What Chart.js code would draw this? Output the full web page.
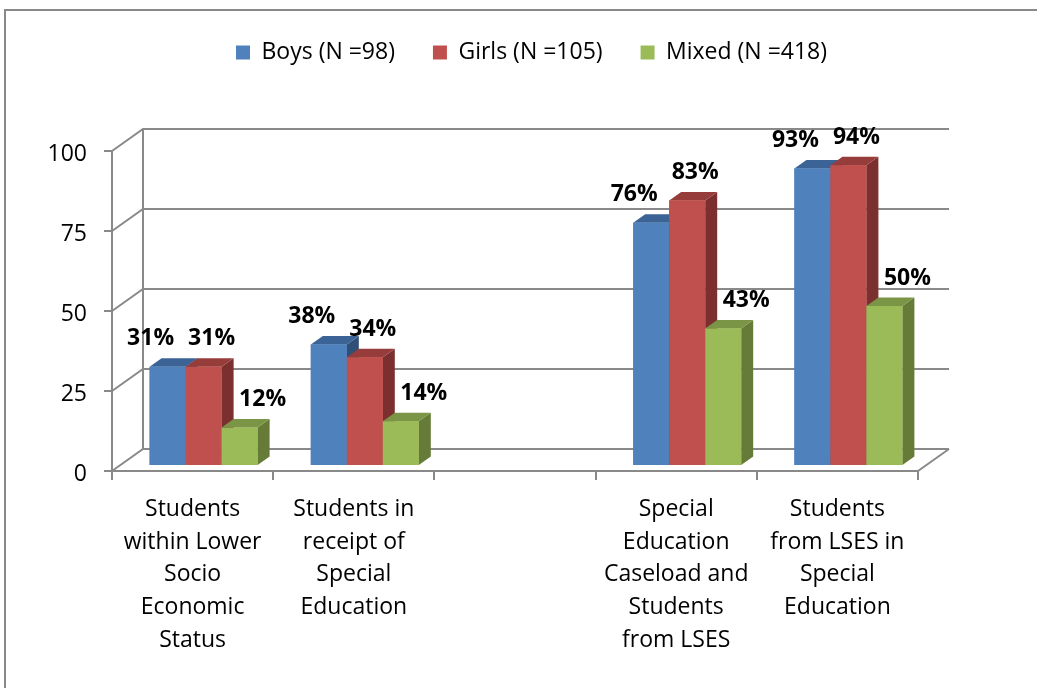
<!DOCTYPE html>
<html>
<head>
<meta charset="utf-8">
<script src="https://cdn.jsdelivr.net/npm/chart.js@4.4.1/dist/chart.umd.min.js"></script>
<style>
  html, body { margin: 0; padding: 0; background: #fff; }
  canvas { display: block; }
</style>
</head>
<body>
<canvas id="myChart" width="1037" height="688"></canvas>
<script>
// categories (third slot is an empty gap in the original)
const categories = [
  ['Students', 'within Lower', 'Socio', 'Economic', 'Status'],
  ['Students in', 'receipt of', 'Special', 'Education'],
  '',
  ['Special', 'Education', 'Caseload and', 'Students', 'from LSES'],
  ['Students', 'from LSES in', 'Special', 'Education']
];
const seriesNames = ['Boys (N =98)', 'Girls (N =105)', 'Mixed (N =418)'];
const boys  = [31, 38, null, 76, 93];
const girls = [31, 34, null, 83, 94];
const mixed = [12, 14, null, 43, 50];
const yMin = 0;
const yMax = 100;
const yStep = 25;

const gridGray = '#898989';
const fontFamily = "'Open Sans', sans-serif";
const depth = { x: 31, y: -22 };     // floor / back wall depth
const barShift = { x: 11, y: -5 };   // bars stand inside the floor
const barDepth = { x: 12, y: -8.5 }; // thickness of each bar

const threeD = {
  id: 'threeD',
  beforeDraw(chart) {
    const c = chart.ctx;
    c.save();
    c.strokeStyle = gridGray;
    c.lineWidth = 2;
    c.beginPath();
    c.moveTo(5, chart.height);
    c.lineTo(5, 10);
    c.lineTo(chart.width, 10);
    c.stroke();
    c.restore();
  },
  beforeDatasetsDraw(chart) {
    const c = chart.ctx, a = chart.chartArea, ys = chart.scales.y;
    c.save();
    c.strokeStyle = gridGray;
    c.lineWidth = 2;
    c.beginPath();
    ys.ticks.forEach(t => {
      const py = ys.getPixelForValue(t.value);
      c.moveTo(a.left, py);
      c.lineTo(a.left + depth.x, py + depth.y);
      c.lineTo(a.right + depth.x, py + depth.y);
    });
    c.moveTo(a.left + depth.x, ys.getPixelForValue(yMax) + depth.y);
    c.lineTo(a.left + depth.x, ys.getPixelForValue(yMin) + depth.y);
    c.moveTo(a.right, a.bottom);
    c.lineTo(a.right + depth.x, a.bottom + depth.y);
    c.stroke();
    c.restore();
    // bars are drawn a bit behind the front plane
    c.save();
    c.translate(barShift.x, barShift.y);
  },
  afterDatasetsDraw(chart) {
    const c = chart.ctx;
    for (let i = 0; i < chart.data.labels.length; i++) {
      chart.data.datasets.forEach((ds, d) => {
        if (ds.data[i] == null) return;
        const el = chart.getDatasetMeta(d).data[i];
        const {x, y, base, width} = el.getProps(['x', 'y', 'base', 'width'], true);
        const x0 = x - width / 2, x1 = x + width / 2;
        const dx = barDepth.x, dy = barDepth.y;
        // side
        c.fillStyle = ds.sideColor;
        c.beginPath();
        c.moveTo(x1, y); c.lineTo(x1 + dx, y + dy);
        c.lineTo(x1 + dx, base + dy); c.lineTo(x1, base);
        c.closePath(); c.fill();
        // top
        c.fillStyle = ds.topColor;
        c.beginPath();
        c.moveTo(x0, y); c.lineTo(x1, y);
        c.lineTo(x1 + dx, y + dy); c.lineTo(x0 + dx, y + dy);
        c.closePath(); c.fill();
        // front again so that the order inside a group is right
        c.fillStyle = ds.backgroundColor;
        c.fillRect(x0, y, width, base - y);
      });
    }
    c.restore();
  },
  afterDraw(chart) {
    const c = chart.ctx;
    c.save();
    c.font = 'bold 23px ' + fontFamily;
    c.fillStyle = '#000';
    c.textAlign = 'center';
    c.textBaseline = 'middle';
    chart.data.datasets.forEach((ds, d) => {
      chart.getDatasetMeta(d).data.forEach((el, i) => {
        if (ds.data[i] == null) return;
        const {x, y} = el.getProps(['x', 'y'], true);
        c.fillText(ds.data[i] + '%', x + barShift.x + ds.labelShift, y + barShift.y - 28);
      });
    });
    c.restore();
  }
};

const ctx = document.getElementById('myChart').getContext('2d');
const myChart = new Chart(ctx, {
  type: 'bar',
  data: {
    labels: categories,
    datasets: [
      { label: seriesNames[0], data: boys,  backgroundColor: '#4F81BD', topColor: '#3B6395', sideColor: '#2F4F77', labelShift: -17 },
      { label: seriesNames[1], data: girls, backgroundColor: '#C0504D', topColor: '#963D3B', sideColor: '#7B2F2E', labelShift: 8 },
      { label: seriesNames[2], data: mixed, backgroundColor: '#9BBB59', topColor: '#7A9545', sideColor: '#667B38', labelShift: 23 }
    ]
  },
  options: {
    responsive: false,
    animation: false,
    devicePixelRatio: 1,
    categoryPercentage: 0.67,
    barPercentage: 1.0,
    layout: { padding: { left: 26, right: 0, top: 3, bottom: 0 } },
    plugins: {
      tooltip: { enabled: false },
      legend: {
        position: 'top',
        labels: {
          boxWidth: 14,
          boxHeight: 14,
          padding: 38,
          color: '#000',
          font: { family: fontFamily, size: 23 }
        }
      }
    },
    scales: {
      x: {
        grid: { drawOnChartArea: false, drawTicks: true, tickLength: 9, color: gridGray, lineWidth: 2 },
        border: { display: true, color: gridGray, width: 2 },
        ticks: {
          color: '#000',
          padding: 13,
          maxRotation: 0,
          autoSkip: false,
          font: { family: fontFamily, size: 23, lineHeight: 1.42 }
        },
        afterFit(s) { s.height = 217; }
      },
      y: {
        min: yMin,
        max: yMax,
        grid: { drawOnChartArea: false, drawTicks: true, tickLength: 8, color: gridGray, lineWidth: 2 },
        border: { display: true, color: gridGray, width: 2 },
        ticks: {
          stepSize: yStep,
          color: '#000',
          padding: 17,
          labelOffset: 3,
          font: { family: fontFamily, size: 23 }
        },
        afterFit(s) { s.width = 86; }
      },
      // empty boxes that only reserve room around the plot
      padTop: {
        axis: 'x',
        position: 'top',
        type: 'linear',
        ticks: { display: false },
        grid: { display: false },
        border: { display: false },
        afterFit(s) { s.height = 77; }
      },
      padRight: {
        axis: 'y',
        position: 'right',
        type: 'linear',
        ticks: { display: false },
        grid: { display: false },
        border: { display: false },
        afterFit(s) { s.width = 119; }
      }
    }
  },
  plugins: [threeD]
});
</script>
</body>
</html>
